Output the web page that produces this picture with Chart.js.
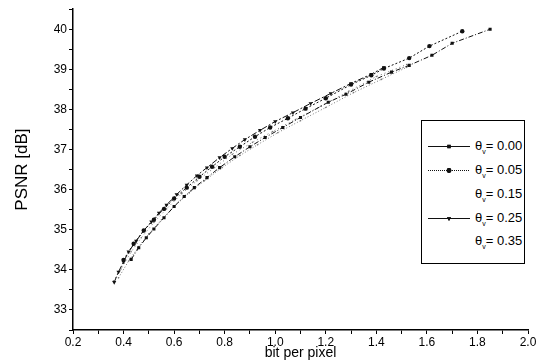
<!DOCTYPE html>
<html>
<head>
<meta charset="utf-8">
<script src="https://cdn.jsdelivr.net/npm/chart.js@4/dist/chart.umd.min.js"></script>
<style>
    html, body { margin: 0; padding: 0; background: #fff; }
    #wrap { position: relative; width: 547px; height: 362px; }
    #legend {
        position: absolute; left: 421px; top: 120px; width: 102px; height: 142px;
        border: 1px solid #000; background: #fff;
        font-family: "Liberation Sans", Arial, sans-serif; font-size: 12px; color: #000;
    }
    .row { position: absolute; left: 0; width: 102px; height: 16px; }
    .row canvas { position: absolute; left: 4px; top: 0; }
    .row span { position: absolute; left: 53px; top: 0; white-space: nowrap; }
</style>
</head>
<body>
<div id="wrap">
    <canvas id="psnrChart" width="547" height="362"></canvas>
    <div id="legend"></div>
</div>
<script>
// ============================ data ==============================
const seriesLabels = ['0.00', '0.05', '0.15', '0.25', '0.35'];

// θv = 0.00
const bpp000 = [0.43, 0.46, 0.49, 0.52, 0.56, 0.60, 0.64, 0.68, 0.73, 0.78, 0.84, 0.90, 0.96, 1.03, 1.10, 1.21, 1.28, 1.37, 1.46, 1.53, 1.62, 1.70, 1.85];
const psnr000 = [34.26, 34.55, 34.80, 35.02, 35.30, 35.58, 35.83, 36.05, 36.30, 36.55, 36.82, 37.07, 37.30, 37.55, 37.80, 38.18, 38.38, 38.68, 38.93, 39.10, 39.35, 39.65, 40.00];

// θv = 0.05
const bpp005 = [0.40, 0.44, 0.48, 0.52, 0.56, 0.60, 0.65, 0.70, 0.75, 0.80, 0.86, 0.92, 0.98, 1.05, 1.12, 1.20, 1.30, 1.38, 1.43, 1.53, 1.61, 1.74];
const psnr005 = [34.25, 34.65, 34.98, 35.25, 35.52, 35.78, 36.05, 36.32, 36.57, 36.82, 37.07, 37.32, 37.55, 37.78, 38.02, 38.28, 38.62, 38.85, 39.02, 39.28, 39.58, 39.95];

// θv = 0.15
const bpp015 = [0.38, 0.42, 0.46, 0.50, 0.55, 0.60, 0.66, 0.72, 0.79, 0.86, 0.93, 1.01, 1.10, 1.20, 1.31, 1.42, 1.52];
const psnr015 = [33.80, 34.22, 34.58, 34.90, 35.25, 35.58, 35.92, 36.22, 36.55, 36.85, 37.12, 37.42, 37.72, 38.05, 38.42, 38.75, 39.05];

// θv = 0.25
const bpp025 = [0.363, 0.38, 0.40, 0.42, 0.45, 0.48, 0.51, 0.54, 0.57, 0.61, 0.65, 0.69, 0.73, 0.78, 0.83, 0.88, 0.94, 1.00, 1.07, 1.14, 1.22, 1.30, 1.38, 1.43];
const psnr025 = [33.69, 33.95, 34.20, 34.45, 34.72, 34.98, 35.20, 35.42, 35.62, 35.88, 36.12, 36.35, 36.55, 36.80, 37.03, 37.25, 37.48, 37.70, 37.92, 38.15, 38.40, 38.65, 38.88, 39.05];

// θv = 0.35
const bpp035 = [0.36, 0.39, 0.43, 0.47, 0.52, 0.57, 0.63, 0.69, 0.76, 0.83, 0.91, 0.99, 1.08, 1.18, 1.29, 1.40, 1.52];
const psnr035 = [33.72, 34.02, 34.45, 34.80, 35.18, 35.52, 35.90, 36.22, 36.55, 36.88, 37.18, 37.45, 37.75, 38.08, 38.45, 38.82, 39.12];

const xTickLabels = ['0.2', '0.4', '0.6', '0.8', '1.0', '1.2', '1.4', '1.6', '1.8', '2.0'];
const yTickLabels = ['33', '34', '35', '36', '37', '38', '39', '40'];

function pts(xs, ys) {
    return xs.map((x, i) => ({x: x, y: ys[i]}));
}

// ============================ styles ==============================
const styles = [
    {color: '#111', dash: [5, 2, 1, 2], point: 'rect', radius: 2.2, rot: 0, legendDash: [], legend: true},
    {color: '#111', dash: [2, 2], point: 'circle', radius: 2.2, rot: 0, legendDash: [1, 1], legend: true},
    {color: '#777', dash: [1, 2], point: 'circle', radius: 0.8, rot: 0, legendDash: [], legend: false},
    {color: '#111', dash: [6, 2, 2, 2], point: 'triangle', radius: 2.4, rot: 180, legendDash: [], legend: true},
    {color: '#777', dash: [1, 3], point: 'circle', radius: 0.8, rot: 0, legendDash: [], legend: false}
];

const allData = [pts(bpp000, psnr000), pts(bpp005, psnr005), pts(bpp015, psnr015), pts(bpp025, psnr025), pts(bpp035, psnr035)];

const FONT = '"Liberation Sans", Arial, sans-serif';

// ============================ chart ==============================
const ctx = document.getElementById('psnrChart').getContext('2d');
new Chart(ctx, {
    type: 'scatter',
    data: {
        datasets: allData.map((d, i) => ({
            label: 'θv= ' + seriesLabels[i],
            data: d,
            showLine: true,
            borderColor: styles[i].color,
            backgroundColor: styles[i].color,
            borderWidth: 1,
            borderDash: styles[i].dash,
            pointStyle: styles[i].point,
            pointRadius: styles[i].radius,
            pointRotation: styles[i].rot,
            pointBorderWidth: 0
        }))
    },
    options: {
        responsive: false,
        animation: false,
        layout: {padding: {top: 8, right: 19, left: 0, bottom: 0}},
        plugins: {
            legend: {display: false},
            tooltip: {enabled: false}
        },
        scales: {
            x: {
                type: 'linear',
                min: 0.2,
                max: 2.0,
                afterBuildTicks: axis => {
                    axis.ticks = [];
                    for (let i = 2; i <= 20; i++) axis.ticks.push({value: i / 10});
                },
                afterFit: axis => { axis.height = 32; },
                ticks: {
                    color: '#000',
                    font: {family: FONT, size: 12},
                    padding: 1,
                    maxRotation: 0,
                    autoSkip: false,
                    callback: v => {
                        const k = Math.round(v * 10);
                        return k % 2 === 0 ? xTickLabels[(k - 2) / 2] : '';
                    }
                },
                grid: {drawOnChartArea: false, color: '#000', tickLength: 4, tickColor: '#000'},
                border: {color: '#000', width: 1.5},
                title: {
                    display: true,
                    text: 'bit per pixel',
                    color: '#000',
                    font: {family: FONT, size: 14},
                    padding: {top: 0, bottom: 0}
                }
            },
            y: {
                type: 'linear',
                min: 32.5,
                max: 40.5,
                afterBuildTicks: axis => {
                    axis.ticks = [];
                    for (let i = 65; i <= 81; i++) axis.ticks.push({value: i / 2});
                },
                afterFit: axis => { axis.width = 73; },
                ticks: {
                    color: '#000',
                    font: {family: FONT, size: 12},
                    padding: 2,
                    autoSkip: false,
                    callback: v => {
                        const k = Math.round(v * 2);
                        return k % 2 === 0 ? yTickLabels[k / 2 - 33] : '';
                    }
                },
                grid: {drawOnChartArea: false, color: '#000', tickLength: 4, tickColor: '#000'},
                border: {color: '#000', width: 1.5},
                title: {
                    display: true,
                    text: 'PSNR [dB]',
                    color: '#000',
                    font: {family: FONT, size: 17},
                    padding: {top: 12, bottom: 0}
                }
            }
        }
    }
});

// ============================ legend ==============================
const legendBox = document.getElementById('legend');
const rowTops = [17, 41, 65, 89, 112];
seriesLabels.forEach((lab, i) => {
    const row = document.createElement('div');
    row.className = 'row';
    row.style.top = rowTops[i] + 'px';
    const c = document.createElement('canvas');
    c.width = 46;
    c.height = 16;
    row.appendChild(c);
    if (styles[i].legend) {
        const g = c.getContext('2d');
        g.strokeStyle = '#111';
        g.fillStyle = '#111';
        g.lineWidth = 1;
        g.setLineDash(styles[i].legendDash);
        g.beginPath();
        g.moveTo(2, 8.5);
        g.lineTo(44, 8.5);
        g.stroke();
        g.setLineDash([]);
        Chart.helpers.drawPoint(g, {pointStyle: styles[i].point, radius: 2.4, rotation: styles[i].rot, borderWidth: 0}, 23, 8.5);
        g.fill();
    }
    const t = document.createElement('span');
    t.innerHTML = 'θ<sub style="font-size:7px">v</sub>= ' + lab;
    t.style.fontSize = '13px';
    row.appendChild(t);
    legendBox.appendChild(row);
});
</script>
</body>
</html>
